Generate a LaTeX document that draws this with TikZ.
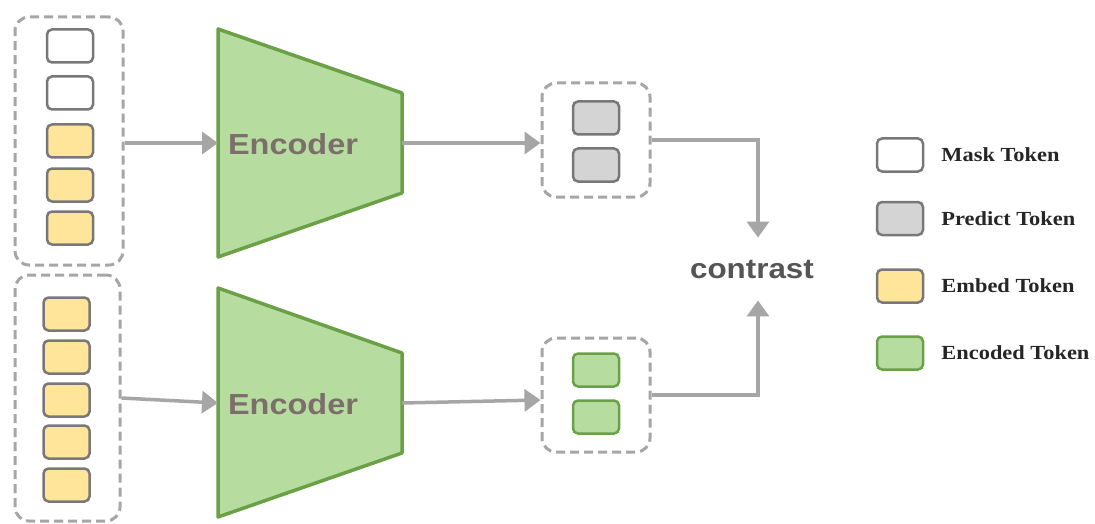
\documentclass[tikz,border=0pt]{standalone}
\usepackage{fontspec}
\usepackage{xcolor}
\setmainfont{Liberation Serif}[FakeStretch=1.12]
\newfontfamily\encfont{Liberation Sans}[FakeStretch=1.12]
\usetikzlibrary{arrows.meta,
	calc,
	positioning}
\definecolor{dashgray}{HTML}{A6A6A6}
\definecolor{tokgray}{HTML}{787878}
\definecolor{embyellow}{HTML}{FFE599}
\definecolor{prdgray}{HTML}{D4D4D4}
\definecolor{encgreen}{HTML}{B7DCA0}
\definecolor{encborder}{HTML}{6AA046}
\definecolor{enctext}{HTML}{7B6E6B}
\definecolor{ctrtext}{HTML}{555555}
\tikzstyle{tok}=[draw=tokgray, line width=2.5pt, rounded corners=5pt, minimum width=46pt, minimum height=33pt, inner sep=0]
\tikzstyle{msk}=[tok, fill=white]
\tikzstyle{emb}=[tok, fill=embyellow]
\tikzstyle{prd}=[tok, fill=prdgray]
\tikzstyle{enc}=[tok, draw=encborder, fill=encgreen]
\tikzstyle{grp}=[draw=dashgray, line width=3pt, dash pattern=on 9pt off 5pt, rounded corners=14pt, inner sep=0]
\tikzstyle{flow}=[draw=dashgray, line width=3.5pt, -{Triangle[length=16pt,width=22pt]}]
\tikzstyle{encbody}=[draw=encborder, fill=encgreen, line width=3.5pt, line join=round]
\tikzstyle{enclabel}=[text=enctext, font=\encfont\bfseries\fontsize{29}{30}\selectfont, inner sep=0]
\tikzstyle{legtext}=[text=black!85, font=\bfseries\fontsize{20}{22}\selectfont, inner sep=0, anchor=west]

\begin{document}
\begin{tikzpicture}[x=1pt, y=-1pt]
	\fill[white] (0,0) rectangle (1095,524);
	\useasboundingbox (0,0) rectangle (1095,524);

	% masked input
	\node[grp, minimum width=108pt, minimum height=248pt] (grp1) at (69,141) {};
	\node[msk] (t11) at (70,46) {};
	\node[msk] (t12) at (70,93) {};
	\node[emb] (t13) at (70,141) {};
	\node[emb] (t14) at (70,185) {};
	\node[emb] (t15) at (70,228) {};

	% full input
	\node[grp, minimum width=105pt, minimum height=246pt] (grp2) at (67.5,398) {};
	\node[emb] (t21) at (66.5,314) {};
	\node[emb] (t22) at (66.5,357) {};
	\node[emb] (t23) at (66.5,400) {};
	\node[emb] (t24) at (66.5,442) {};
	\node[emb] (t25) at (66.5,485) {};

	% encoders
	\draw[encbody] (218,29) -- (402,93) -- (402,193) -- (218,257) -- cycle;
	\draw[encbody] (218,288) -- (402,353) -- (402,453) -- (218,517) -- cycle;
	\node[enclabel] (enc1) at (293,144) {Encoder};
	\node[enclabel] (enc2) at (293,404) {Encoder};
	\coordinate (enc1in) at (218,143);
	\coordinate (enc1out) at (402,143);
	\coordinate (enc2in) at (218,403);
	\coordinate (enc2out) at (402,403);

	% outputs
	\node[grp, minimum width=108pt, minimum height=114pt] (grp3) at (596,140) {};
	\node[prd] (p1) at (596,118) {};
	\node[prd] (p2) at (596,165) {};
	\node[grp, minimum width=108pt, minimum height=114pt] (grp4) at (596,395) {};
	\node[enc] (e1) at (596,370) {};
	\node[enc] (e2) at (596,417) {};

	\node[text=ctrtext, font=\encfont\bfseries\fontsize{28}{30}\selectfont, anchor=base, inner xsep=0, inner ysep=22pt] (ctr) at (752,278) {contrast};

	% connectors
	\draw[flow] (grp1.east |- enc1in) -- (enc1in);
	\draw[flow] (grp2.east) -- (enc2in);
	\draw[flow] (enc1out) -- (enc1out -| grp3.west);
	\draw[flow] (enc2out) -- ([yshift=-5pt]grp4.west);
	\draw[flow] (grp3.east) -| ([xshift=6pt]ctr.north);
	\draw[flow] (grp4.east) -| ([xshift=6pt]ctr.south);

	% legend
	\node[msk] (lmsk) at (900,155) {};
	\node[prd] (lprd) at (900,218.5) {};
	\node[emb] (lemb) at (900,286) {};
	\node[enc] (lenc) at (900,353) {};
	\node[legtext, right=17pt of lmsk] (tmsk) {Mask Token};
	\node[legtext, right=17pt of lprd] (tprd) {Predict Token};
	\node[legtext, right=17pt of lemb] (temb) {Embed Token};
	\node[legtext, right=17pt of lenc] (tenc) {Encoded Token};
\end{tikzpicture}
\end{document}
